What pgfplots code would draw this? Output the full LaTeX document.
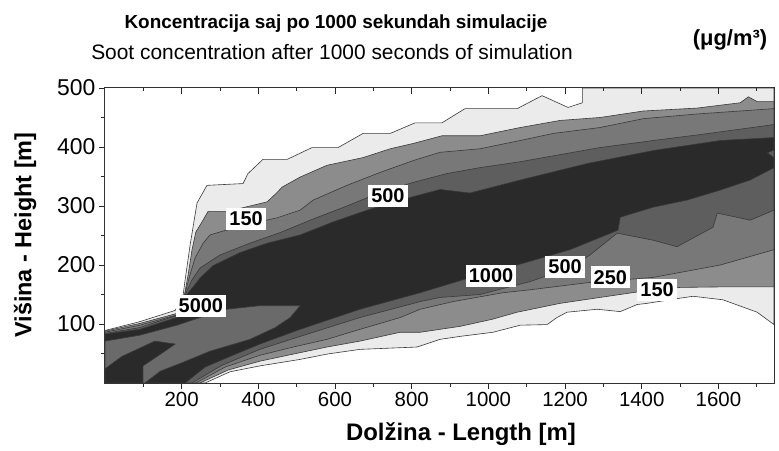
\documentclass[border=0pt]{standalone}
\usepackage{fontspec}
\setmainfont{Liberation Sans}
\usepackage{pgfplots}
\pgfplotsset{compat=1.18}
\definecolor{cA}{HTML}{EBEBEB}
\definecolor{cB}{HTML}{8C8C8C}
\definecolor{cC}{HTML}{787878}
\definecolor{cD}{HTML}{5E5E5E}
\definecolor{cE}{HTML}{2A2A2A}
\definecolor{cP}{HTML}{6A6A6A}
\definecolor{cL}{HTML}{3A3A3A}
\begin{document}
\begin{tikzpicture}
\useasboundingbox (-105bp,-68bp) rectangle (674bp,383bp);
\begin{axis}[
  at={(0,0)}, anchor=south west,
  scale only axis, width=669bp, height=295bp,
  xmin=0, xmax=1745, ymin=0, ymax=500,
  xtick={200,400,...,1600}, ytick={100,200,...,500},
  minor xtick={100,300,...,1700}, minor ytick={50,150,...,450},
  tick align=outside, xtick pos=bottom, ytick pos=left,
  major tick length=6bp, minor tick length=3.5bp,
  tick style={black!85, line width=0.7bp},
  axis line style={black!80, line width=1bp},
  xticklabel style={font=\fontsize{20.5}{22}\selectfont},
  yticklabel style={font=\fontsize{23}{25}\selectfont},
  /pgf/number format/assume math mode=true,
  /pgf/number format/set thousands separator={},
  axis on top,
  contour/.style={draw=cL, line width=0.6bp},
]
% outermost (100-150)
\addplot[contour, fill=cA] coordinates {(0,89) (91,104) (183,123) (203,145) (209,175) (222,234) (240,305) (266,335) (360,338) (373,355) (412,379) (475,379) (540,399) (608,399) (673,423) (744,423) (809,441) (879,441) (939,465) (1075,465) (1140,487) (1208,467) (1245,475) (1245,500) (1745,500) (1745,99) (1701,120) (1612,141) (1534,147) (1492,143) (1414,135) (1388,133) (1344,121) (1284,125) (1205,120) (1179,111) (1153,99) (1083,98) (1012,86) (926,79) (874,74) (814,61) (665,57) (579,49) (509,40) (404,29) (326,19) (261,0) (0,0) (0,89)};
% 150-250
\addplot[contour, fill=cB] coordinates {(0,88) (91,101) (188,118) (206,145) (217,184) (227,226) (237,256) (253,273) (269,291) (321,291) (423,307) (449,323) (462,332) (509,349) (579,369) (673,382) (744,397) (804,406) (879,419) (978,419) (1083,433) (1187,445) (1291,450) (1404,461) (1545,466) (1657,475) (1678,485) (1701,477) (1745,477) (1745,163) (1623,163) (1500,162) (1396,155) (1291,145) (1187,135) (1075,120) (1010,108) (926,96) (822,86) (770,86) (665,71) (579,61) (491,49) (404,37) (321,22) (248,0) (0,0) (0,88)};
% 250-500
\addplot[contour, fill=cC] coordinates {(0,86) (91,98) (191,116) (206,145) (222,184) (235,212) (256,237) (274,251) (352,266) (449,280) (509,293) (543,310) (631,335) (718,357) (804,377) (874,391) (978,397) (1083,411) (1169,423) (1291,433) (1404,448) (1545,456) (1745,465) (1745,226) (1605,200) (1430,179) (1258,170) (1109,158) (1038,153) (908,138) (822,125) (770,111) (665,91) (579,74) (491,61) (404,47) (313,27) (237,0) (0,0) (0,86)};
% 500-1000
\addplot[contour, fill=cD] coordinates {(0,84) (91,94) (193,116) (206,145) (227,175) (248,195) (300,217) (378,237) (457,255) (543,278) (631,300) (718,323) (804,340) (892,355) (978,365) (1083,375) (1169,385) (1291,399) (1430,411) (1552,421) (1745,438) (1745,293) (1683,276) (1597,288) (1586,264) (1492,231) (1430,242) (1336,254) (1265,217) (1213,195) (1109,172) (978,150) (874,145) (822,138) (665,111) (509,79) (404,57) (305,30) (227,0) (0,0) (0,84)};
% > 1000
\addplot[contour, fill=cE] coordinates {(0,83) (91,91) (196,113) (206,145) (230,163) (248,178) (282,199) (352,221) (423,237) (509,251) (595,273) (684,293) (770,310) (874,328) (952,322) (1083,344) (1258,372) (1430,394) (1605,411) (1745,416) (1745,365) (1683,344) (1605,327) (1518,310) (1430,298) (1344,281) (1338,259) (1213,226) (1075,200) (934,175) (822,153) (665,125) (509,91) (404,66) (326,45) (261,27) (209,0) (0,0) (0,83)};
% pocket near the source
\addplot[contour, fill=cP] coordinates {(0,71) (91,81) (188,98) (248,111) (318,125) (404,131) (509,131) (483,111) (444,94) (378,74) (274,54) (203,35) (144,20) (104,0) (0,0) (0,71)};
\addplot[contour, fill=cE] coordinates {(0,24) (44,45) (130,71) (183,66) (136,45) (99,29) (99,0) (0,0) (0,24)};
\addplot[contour, fill=cD] coordinates {(1745,395) (1728,390) (1745,382) (1745,395)};
% contour labels
\begin{scope}[every node/.style={fill=white, inner xsep=3bp, inner ysep=4bp, font=\fontsize{20}{22}\selectfont\bfseries}]
\node at (axis cs:368,278) {150};
\node at (axis cs:738,317) {500};
\node at (axis cs:250,131) {5000};
\node at (axis cs:1007,182) {1000};
\node at (axis cs:1200,197) {500};
\node at (axis cs:1318,179) {250};
\node at (axis cs:1440,158) {150};
\end{scope}
\end{axis}
% top ticks pointing inward
\begin{axis}[
  at={(0,0)}, anchor=south west,
  scale only axis, width=669bp, height=295bp,
  xmin=0, xmax=1745, ymin=0, ymax=500,
  axis x line*=top, axis y line=none,
  xtick={200,400,...,1600}, minor xtick={100,300,...,1700},
  xticklabels={}, tick align=inside,
  major tick length=6bp, minor tick length=3.5bp,
  tick style={black!85, line width=0.7bp},
  axis line style={black!80, line width=1bp, -},
]
\end{axis}
\node[anchor=base, font=\fontsize{19}{21}\selectfont\bfseries] at (231bp,354bp) {Koncentracija saj po 1000 sekundah simulacije};
\node[anchor=base, font=\fontsize{21}{23}\selectfont] at (227bp,323bp) {Soot concentration after 1000 seconds of simulation};
\node[anchor=base, font=\fontsize{22}{24}\selectfont\bfseries] at (625bp,337bp) {(μg/m³)};
\node[anchor=base, font=\fontsize{24}{26}\selectfont\bfseries] at (356bp,-57bp) {Dolžina - Length [m]};
\node[rotate=90, font=\fontsize{23.5}{25}\selectfont\bfseries] at (-80bp,148bp) {Višina - Height [m]};
\end{tikzpicture}
\end{document}
